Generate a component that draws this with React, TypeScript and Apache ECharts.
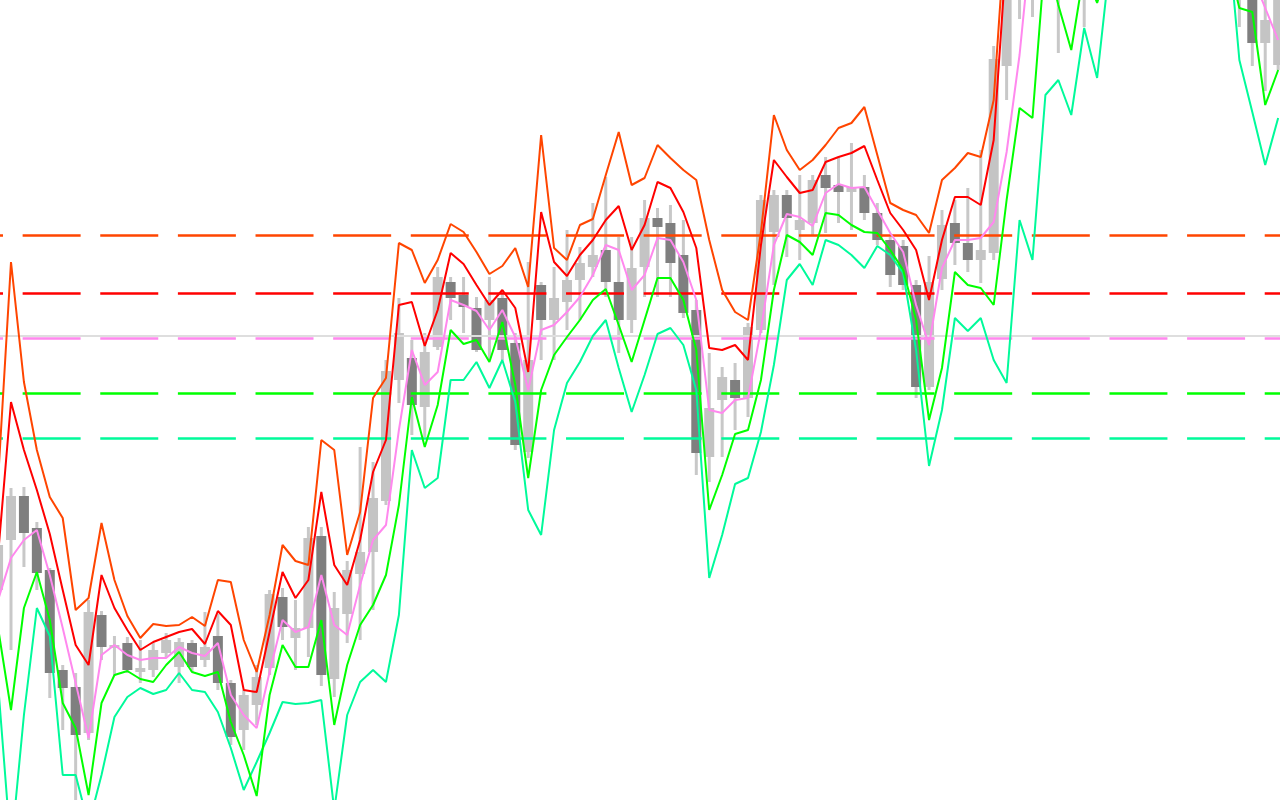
import React, { useEffect, useRef } from "react";
import * as echarts from "echarts";

// Bar labels (one per candle)
const bars: string[] = Array.from({ length: 100 }, (_, i) => `B${i + 1}`);

// Values are on an inverted price scale (smaller value = higher on the chart)
const open = [
  590, 540, 496, 528, 570, 670, 687, 733, 615, 648,
  643, 672, 670, 653, 667, 643, 660, 636, 683, 730,
  705, 668, 597, 638, 628, 536, 679, 614, 574, 552,
  501, 380, 358, 407, 347, 282, 295, 308, 320, 298,
  343, 452, 285, 320, 302, 280, 267, 250, 282, 320,
  267, 218, 223, 255, 310, 457, 400, 380, 398, 330,
  232, 195, 230, 223, 175, 185, 192, 187, 213, 240,
  246, 285, 387, 279, 223, 243, 260, 253, 66, -10,
  -60, -120, -50, -60, -5, -40, -90, -150, -120, -190,
  -230, -200, -160, -190, -140, -100, -5, -30, 43, 65,
];
const close = [
  545, 496, 533, 573, 673, 688, 735, 612, 647, 645,
  670, 668, 650, 640, 642, 667, 647, 683, 737, 695,
  677, 594, 627, 628, 538, 675, 608, 570, 552, 498,
  371, 333, 405, 352, 277, 298, 307, 350, 300, 350,
  445, 360, 320, 298, 280, 263, 255, 282, 320, 268,
  218, 227, 263, 313, 453, 408, 377, 398, 327, 200,
  195, 218, 220, 180, 188, 192, 187, 213, 240, 275,
  285, 387, 282, 225, 243, 260, 250, 59, -40, -100,
  -150, -40, -2, -20, -60, -90, -150, -120, -190, -230,
  -200, -160, -190, -140, -100, -50, -60, 43, 20, -20,
];
const low = [
  600, 650, 567, 590, 698, 730, 805, 740, 660, 676,
  673, 683, 677, 657, 683, 672, 667, 690, 745, 750,
  725, 675, 640, 670, 657, 686, 697, 643, 640, 610,
  505, 403, 435, 437, 350, 320, 333, 352, 360, 360,
  450, 458, 360, 360, 330, 320, 277, 297, 353, 333,
  297, 297, 297, 318, 475, 482, 457, 430, 417, 333,
  285, 257, 260, 235, 233, 223, 230, 220, 245, 287,
  290, 398, 390, 290, 265, 272, 283, 260, 100, 19,
  17, -10, 53, -5, 27, -10, -70, -100, -110, -170,
  -180, -140, -150, -120, -80, -30, 27, 66, 91, 70,
];
const high = [
  520, 488, 487, 522, 568, 665, 673, 600, 611, 636,
  637, 640, 643, 633, 638, 640, 612, 614, 680, 690,
  665, 590, 588, 600, 527, 527, 592, 561, 447, 462,
  360, 298, 340, 333, 267, 277, 277, 297, 277, 290,
  333, 262, 282, 267, 230, 247, 203, 177, 237, 237,
  200, 208, 205, 220, 300, 353, 367, 363, 323, 195,
  190, 190, 175, 175, 157, 157, 143, 175, 203, 237,
  240, 280, 256, 210, 200, 188, 150, 46, -60, -120,
  -170, -160, -80, -100, -90, -110, -170, -180, -210, -250,
  -260, -220, -210, -200, -160, -120, -80, -60, -10, -40,
];

// Envelope lines
const upper2 = [
  480, 262, 382, 450, 497, 518, 610, 598, 523, 580,
  616, 638, 624, 626, 625, 617, 626, 580, 582, 640,
  672, 615, 545, 561, 565, 440, 450, 555, 512, 398,
  378, 243, 250, 283, 260, 224, 232, 252, 274, 266,
  248, 287, 135, 248, 260, 225, 219, 175, 132, 185,
  178, 145, 158, 170, 180, 240, 290, 312, 320, 232,
  115, 150, 170, 160, 145, 128, 123, 107, 155, 203,
  210, 215, 233, 180, 168, 153, 157, 100, -90, -180,
  -230, -260, -240, -250, -270, -260, -280, -290, -300, -300,
  -310, -300, -290, -280, -270, -250, -200, -170, -130, -120,
];
const upper1 = [
  555, 402, 450, 490, 534, 590, 645, 665, 575, 608,
  630, 650, 642, 637, 632, 629, 644, 611, 625, 690,
  692, 632, 572, 598, 580, 492, 565, 585, 540, 472,
  440, 305, 302, 346, 310, 253, 264, 285, 305, 290,
  308, 372, 212, 262, 276, 255, 240, 220, 206, 250,
  225, 182, 188, 212, 248, 348, 350, 345, 360, 245,
  160, 177, 193, 190, 162, 157, 153, 146, 180, 213,
  230, 250, 300, 240, 197, 197, 205, 140, -50, -140,
  -190, -220, -200, -210, -230, -220, -240, -250, -260, -260,
  -270, -260, -250, -240, -230, -210, -160, -130, -90, -80,
];
const middle = [
  600, 558, 540, 530, 575, 628, 683, 738, 655, 645,
  655, 660, 658, 658, 647, 653, 656, 643, 695, 715,
  728, 672, 620, 632, 627, 575, 625, 635, 585, 540,
  525, 430, 350, 385, 372, 300, 305, 311, 330, 310,
  337, 390, 330, 325, 312, 297, 275, 245, 250, 290,
  275, 238, 240, 262, 300, 410, 413, 400, 398, 330,
  245, 214, 217, 226, 193, 184, 188, 187, 210, 233,
  252, 305, 345, 268, 240, 240, 238, 222, 152, 55,
  -75, -130, -140, -150, -170, -170, -180, -190, -200, -200,
  -200, -190, -180, -160, -140, -110, -70, -24, 8, 40,
];
const lower1 = [
  628, 710, 608, 572, 620, 703, 728, 795, 703, 675,
  671, 679, 682, 665, 652, 672, 676, 672, 722, 755,
  796, 695, 645, 667, 667, 620, 725, 665, 625, 605,
  575, 505, 397, 447, 405, 330, 344, 340, 362, 322,
  385, 478, 390, 355, 337, 320, 300, 289, 325, 362,
  320, 278, 278, 300, 350, 510, 475, 434, 430, 380,
  290, 235, 242, 255, 213, 215, 225, 232, 233, 250,
  270, 320, 420, 368, 272, 285, 288, 305, 200, 108,
  118, -48, 5, 50, -30, 3, -40, -70, -90, -100,
  -110, -100, -90, -80, -65, -45, 8, 12, 105, 70,
];
const lower2 = [
  684, 850, 715, 608, 636, 775, 775, 825, 775, 717,
  697, 688, 694, 690, 673, 690, 692, 712, 748, 790,
  762, 733, 702, 704, 703, 700, 810, 715, 682, 670,
  682, 615, 450, 488, 478, 380, 380, 362, 388, 360,
  402, 510, 535, 430, 383, 362, 336, 320, 368, 412,
  375, 334, 328, 345, 390, 578, 535, 484, 478, 432,
  365, 280, 264, 285, 240, 245, 255, 268, 246, 255,
  273, 350, 466, 410, 318, 331, 318, 360, 383, 220,
  260, 95, 80, 115, 28, 78, -40, -70, -90, -100,
  -110, -110, -100, -100, -95, -85, 60, 112, 165, 118,
];

// Horizontal levels
const levelUpper2 = 235.3;
const levelUpper1 = 293.3;
const levelMiddle = 338;
const levelLower1 = 393.3;
const levelLower2 = 438.7;
const lastPrice = 335.3;

// Visible bar window (bar index units)
const xMin = 0.1493;
const xMax = 99.143;

const C_UP2 = "#FF4500";
const C_UP1 = "#FF0000";
const C_MID = "#FF88EE";
const C_LO1 = "#00FF00";
const C_LO2 = "#00FA9A";

function levelLine(value: number, color: string) {
  return {
    silent: true,
    symbol: ["none", "none"],
    label: { show: false },
    lineStyle: { color, width: 2.5, type: [58, 19.63], dashOffset: 55.4, opacity: 1 },
    emphasis: { disabled: true },
    data: [{ yAxis: value }],
  };
}

function bandSeries(name: string, data: number[], color: string, level: number) {
  return {
    name,
    type: "line",
    data: data.map((v, i) => [i, v]),
    z: 5,
    showSymbol: false,
    symbol: "none",
    smooth: false,
    silent: true,
    lineStyle: { color, width: 2 },
    markLine: levelLine(level, color),
  };
}

export default function App() {
  const ref = useRef<HTMLDivElement>(null);

  useEffect(() => {
    if (!ref.current) return;
    const chart = echarts.init(ref.current, undefined, { renderer: "svg" });
    const candleData = bars.map((b, i) => [i, open[i], close[i], low[i], high[i]]);

    chart.setOption({
      animation: false,
      backgroundColor: "#FFFFFF",
      grid: { left: 0, top: 0, right: 0, bottom: 0, containLabel: false },
      xAxis: {
        type: "value",
        min: xMin,
        max: xMax,
        show: false,
        splitLine: { show: false },
      },
      yAxis: {
        type: "value",
        min: 0,
        max: 800,
        inverse: true,
        show: false,
        splitLine: { show: false },
      },
      series: [
        {
          name: "price",
          type: "custom",
          z: 1,
          silent: true,
          clip: true,
          encode: { x: 0, y: [1, 2, 3, 4] },
          data: candleData,
          renderItem: (params: any, api: any) => {
            const idx = api.value(0);
            const o = api.value(1);
            const c = api.value(2);
            const l = api.value(3);
            const h = api.value(4);
            const pO = api.coord([idx, o]);
            const pC = api.coord([idx, c]);
            const pL = api.coord([idx, l]);
            const pH = api.coord([idx, h]);
            const x = pO[0];
            const top = Math.min(pO[1], pC[1]);
            const bot = Math.max(pO[1], pC[1]);
            // inverted scale: a smaller close than open means the bar rose
            const rising = c < o;
            const bw = 10;
            return {
              type: "group",
              children: [
                {
                  type: "rect",
                  shape: { x: x - 1.5, y: Math.min(pH[1], pL[1]), width: 3, height: Math.abs(pL[1] - pH[1]) },
                  style: { fill: "#C8C8C8" },
                },
                {
                  type: "rect",
                  shape: { x: x - bw / 2, y: top, width: bw, height: Math.max(bot - top, 1.5) },
                  style: { fill: rising ? "#C4C4C4" : "#7F7F7F" },
                },
              ],
            };
          },
        },
        {
          name: "last",
          type: "line",
          data: [],
          z: 3,
          markLine: {
            silent: true,
            symbol: ["none", "none"],
            label: { show: false },
            lineStyle: { color: "#DEDEDE", width: 2, type: "solid" },
            data: [{ yAxis: lastPrice }],
          },
        },
        bandSeries("lower2", lower2, C_LO2, levelLower2),
        bandSeries("lower1", lower1, C_LO1, levelLower1),
        bandSeries("middle", middle, C_MID, levelMiddle),
        bandSeries("upper1", upper1, C_UP1, levelUpper1),
        bandSeries("upper2", upper2, C_UP2, levelUpper2),
      ],
    });

    return () => chart.dispose();
  }, []);

  return (
    <div
      ref={ref}
      style={{ position: "absolute", left: 0, top: 0, width: 1280, height: 800, background: "#fff" }}
    />
  );
}
